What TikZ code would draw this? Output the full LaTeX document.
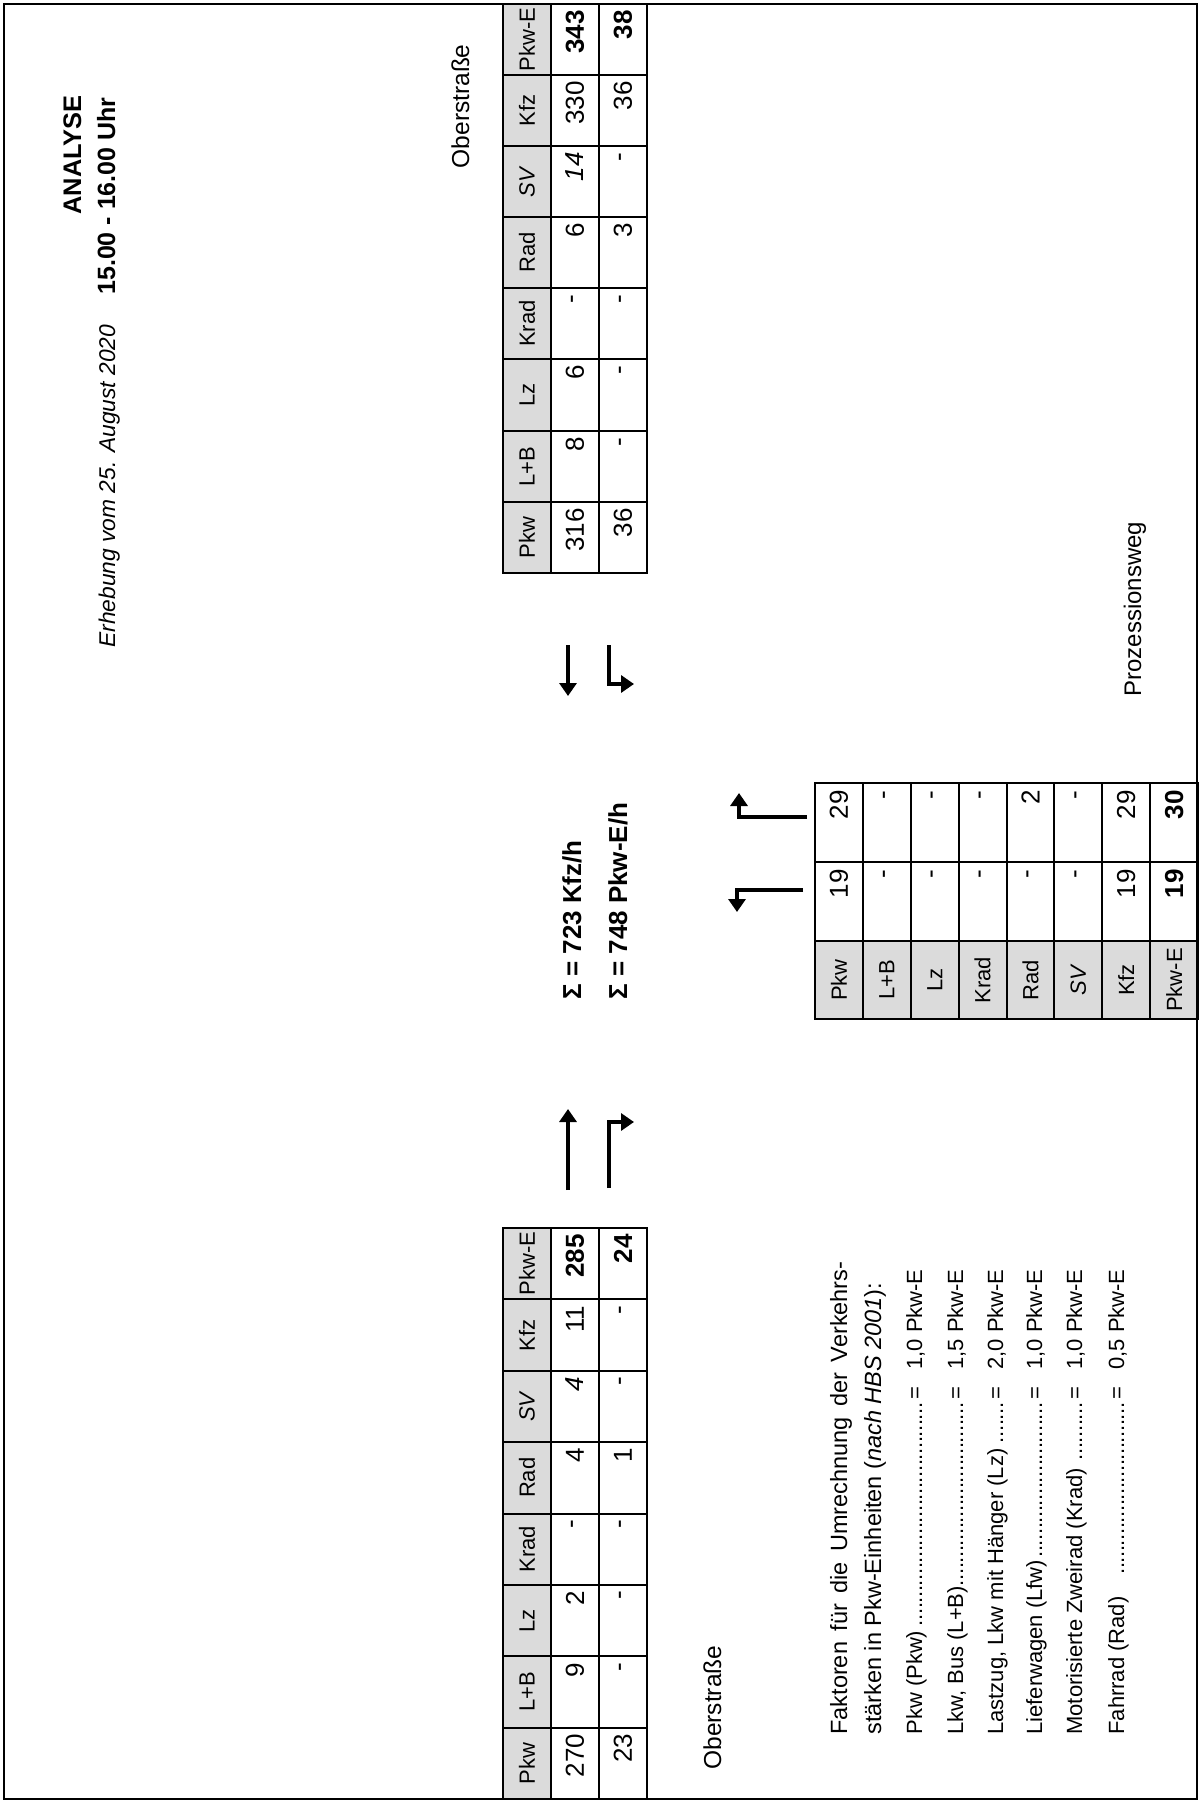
\documentclass[tikz,border=0pt]{standalone}
\usepackage{fontspec}
\setmainfont{Liberation Sans}
\usetikzlibrary{arrows.meta}
\newcommand\dotlead{\leaders\hbox to 0.26em{\hss.\hss}\hfill}
\begin{document}
\begin{tikzpicture}[x=0.5pt,y=-0.5pt,
  txt/.style={rotate=90,inner sep=0pt},
  hdrfont/.style={font=\fontsize{11}{13}\selectfont},
  valfont/.style={font=\fontsize{13}{15}\selectfont},
  hdrcell/.style={draw=black,line width=1pt,fill=black!14},
  datcell/.style={draw=black,line width=1pt,fill=white},
  hdr/.style={txt,hdrfont},
  val/.style={txt,valfont,anchor=east},
  flow/.style={line width=2.4pt,-{Triangle[width=8.5pt,length=6.5pt]}},
  par/.style={txt,anchor=base west,font=\fontsize{11.75}{14}\selectfont},
  fak/.style={txt,anchor=base west,font=\fontsize{11}{13}\selectfont},
  fakv/.style={txt,anchor=base east,font=\fontsize{11}{13}\selectfont},
  lbl/.style={txt,font=\fontsize{12.25}{15}\selectfont},
  ]
\fill[white] (0,0) rectangle (1200,1802);
\useasboundingbox (0,0) rectangle (1200,1802);

% titles
\node[txt,anchor=base east,font=\fontsize{12.7}{15}\selectfont\bfseries] (title) at (81,95) {ANALYSE};
\node[txt,anchor=base east,font=\fontsize{12.5}{15}\selectfont\bfseries] (time) at (115,97) {15.00 - 16.00 Uhr};
\node[txt,anchor=base west,font=\fontsize{11.4}{14}\selectfont\itshape] (date) at (115,648) {Erhebung vom 25. August 2020};

% street labels
\node[lbl,anchor=base east] (ostr1) at (469,44) {Oberstraße};
\node[lbl,anchor=base west] (ostr2) at (721,1770) {Oberstraße};
\node[lbl,anchor=base west,font=\fontsize{12}{14}\selectfont] (proz) at (1141,697) {Prozessionsweg};

% top table
\foreach \j/\ya/\yb/\h/\a/\b in {
 1/502/573/Pkw/316/36,
 2/431/502/L+B/8/-,
 3/359/431/Lz/6/-,
 4/288/359/Krad/-/-,
 5/217/288/Rad/6/3,
 6/146/217/\textit{SV}/\textit{14}/-,
 7/75/146/Kfz/330/36,
 8/4/75/Pkw-E/\textbf{343}/\textbf{38}}{
 \draw[hdrcell] (503,\ya) rectangle (551,\yb);
 \draw[datcell] (551,\ya) rectangle (599,\yb);
 \draw[datcell] (599,\ya) rectangle (647,\yb);
 \node[hdr] (TH\j) at (527,{(\ya+\yb)/2}) {\h};
 \node[val] (TA\j) at (575,\ya+6) {\a};
 \node[val] (TB\j) at (623,\ya+6) {\b};
}

% bottom table
\foreach \j/\ya/\yb/\h/\a/\b in {
 1/1727.6/1799/Pkw/270/23,
 2/1656.3/1727.6/L+B/9/-,
 3/1584.9/1656.3/Lz/2/-,
 4/1513.5/1584.9/Krad/-/-,
 5/1442.1/1513.5/Rad/4/1,
 6/1370.8/1442.1/\textit{SV}/\textit{4}/-,
 7/1299.4/1370.8/Kfz/11/-,
 8/1228/1299.4/Pkw-E/\textbf{285}/\textbf{24}}{
 \draw[hdrcell] (503,\ya) rectangle (551,\yb);
 \draw[datcell] (551,\ya) rectangle (599,\yb);
 \draw[datcell] (599,\ya) rectangle (647,\yb);
 \node[hdr] (BH\j) at (527,{(\ya+\yb)/2}) {\h};
 \node[val] (BA\j) at (575,\ya+6) {\a};
 \node[val] (BB\j) at (623,\ya+6) {\b};
}

% middle table (Prozessionsweg)
\foreach \j/\h/\a/\b in {
 1/Pkw/19/29,
 2/L+B/-/-,
 3/Lz/-/-,
 4/Krad/-/-,
 5/Rad/-/2,
 6/\textit{SV}/-/-,
 7/Kfz/19/29,
 8/Pkw-E/\textbf{19}/\textbf{30}}{
 \pgfmathsetmacro\xa{815+47.875*(\j-1)}
 \pgfmathsetmacro\xb{\xa+47.875}
 \pgfmathsetmacro\xm{\xa+23.94}
 \draw[datcell] (\xa,783) rectangle (\xb,862);
 \draw[datcell] (\xa,862) rectangle (\xb,941);
 \draw[hdrcell] (\xa,941) rectangle (\xb,1019);
 \node[hdr] (MH\j) at (\xm,980) {\h};
 \node[val] (MB\j) at (\xm,869) {\a};
 \node[val] (MA\j) at (\xm,790) {\b};
}

% sums
\node[txt,anchor=base west,font=\fontsize{13}{15}\selectfont\bfseries] (sum1) at (581,1000) {Σ = 723 Kfz/h};
\node[txt,anchor=base west,font=\fontsize{13}{15}\selectfont\bfseries] (sum2) at (627,1000) {Σ = 748 Pkw-E/h};

% arrows
\coordinate (a1s) at (568,645); \coordinate (a1e) at (568,696);
\draw[flow] (a1s) -- (a1e);
\coordinate (a2s) at (609,645); \coordinate (a2c) at (609,684); \coordinate (a2e) at (634,684);
\draw[flow] (a2s) -- (a2c) -- (a2e);
\coordinate (a3s) at (568,1190); \coordinate (a3e) at (568,1109);
\draw[flow] (a3s) -- (a3e);
\coordinate (a4s) at (609,1188); \coordinate (a4c) at (609,1122); \coordinate (a4e) at (634,1122);
\draw[flow] (a4s) -- (a4c) -- (a4e);
\coordinate (a5s) at (807,817); \coordinate (a5c) at (739,817); \coordinate (a5e) at (739,793);
\draw[flow] (a5s) -- (a5c) -- (a5e);
\coordinate (a6s) at (803,890); \coordinate (a6c) at (737,890); \coordinate (a6e) at (737,912);
\draw[flow] (a6s) -- (a6c) -- (a6e);

% factors
\node[par] (f1) at (847,1735) {\makebox[236.5pt][s]{Faktoren für die Umrechnung der Verkehrs-}};
\node[par] (f2) at (881,1735) {stärken in Pkw-Einheiten (\textit{nach HBS 2001}):};
\node[fak] (l1) at (922,1735) {\makebox[166pt][l]{Pkw (Pkw)\dotlead}};
\node[fakv] (v1) at (922,1269) {=\hspace{8.5pt}1,0 Pkw-E};
\node[fak] (l2) at (963,1735) {\makebox[166pt][l]{Lkw, Bus (L+B)\dotlead}};
\node[fakv] (v2) at (963,1269) {=\hspace{8.5pt}1,5 Pkw-E};
\node[fak] (l3) at (1003,1735) {\makebox[166pt][l]{Lastzug, Lkw mit Hänger (Lz)\,\dotlead}};
\node[fakv] (v3) at (1003,1269) {=\hspace{8.5pt}2,0 Pkw-E};
\node[fak] (l4) at (1042,1735) {\makebox[166pt][l]{Lieferwagen (Lfw)\dotlead}};
\node[fakv] (v4) at (1042,1269) {=\hspace{8.5pt}1,0 Pkw-E};
\node[fak] (l5) at (1082,1735) {\makebox[166pt][l]{Motorisierte Zweirad (Krad)\,\dotlead}};
\node[fakv] (v5) at (1082,1269) {=\hspace{8.5pt}1,0 Pkw-E};
\node[fak] (l6) at (1124,1735) {\makebox[166pt][l]{Fahrrad (Rad)\hspace{9pt}\dotlead}};
\node[fakv] (v6) at (1124,1269) {=\hspace{8.5pt}0,5 Pkw-E};

% frame
\draw[line width=1.25pt] (4,4) rectangle (1197,1799);
\end{tikzpicture}
\end{document}
